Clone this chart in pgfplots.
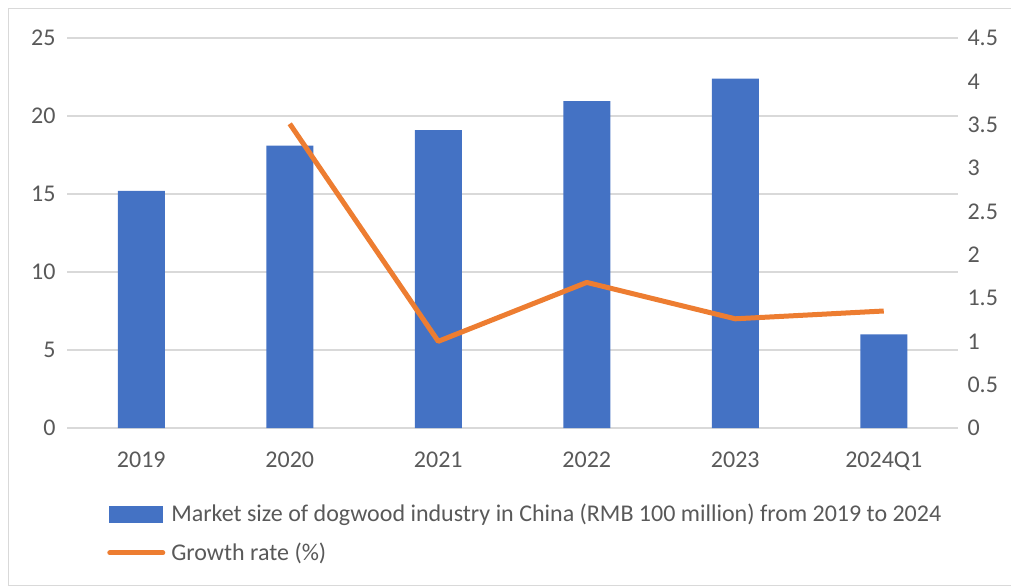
\documentclass[border=0pt]{standalone}
\usepackage{pgfplots}
\pgfplotsset{compat=1.18}
\usepackage{fontspec}
\setmainfont{Carlito}
\definecolor{barblue}{HTML}{4472C4}
\definecolor{lineorange}{HTML}{ED7D31}
\definecolor{gridgray}{HTML}{D9D9D9}
\definecolor{textgray}{HTML}{595959}
\begin{document}
\begin{tikzpicture}[x=1pt,y=1pt]
\useasboundingbox (0,0) rectangle (1011,587);
\draw[gridgray, line width=1pt] (8.5,2) rectangle (1012,578.5);
\pgfplotsset{
  common/.style={
    at={(67pt,159pt)}, anchor=south west, scale only axis,
    width=891pt, height=390pt,
    xmin=-0.5, xmax=5.5,
    axis line style={draw=none},
    tick style={draw=none},
    major tick length=0pt,
    ticklabel style={font=\fontsize{24}{27}\selectfont, text=textgray},
    /pgf/number format/assume math mode=true,
  }
}
\begin{axis}[common,
  axis x line*=bottom, axis y line*=left,
  ymin=0, ymax=25, ytick={0,5,10,15,20,25},
  ymajorgrids, grid style={gridgray, line width=1.5pt},
  xtick={0,1,2,3,4,5},
  xticklabels={2019,2020,2021,2022,2023,2024Q1},
  xticklabel style={yshift=-20pt},
  yticklabel style={xshift=-8pt},
  ybar, bar width=47pt,
]
\addplot[fill=barblue, draw=none] coordinates {
  (0,15.2) (1,18.1) (2,19.1) (3,20.95) (4,22.4) (5,6.0)
};
\end{axis}
\begin{axis}[common,
  axis y line*=right, axis x line=none,
  ymin=0, ymax=4.5, ytick={0,0.5,1,1.5,2,2.5,3,3.5,4,4.5},
  yticklabel style={xshift=6pt},
  legend style={at={(0.045,-0.19)}, anchor=north west, draw=none, fill=none,
    font=\fontsize{24}{27}\selectfont, text=textgray,
    row sep=16pt, inner sep=0pt},
  legend cell align=left,
]
\addlegendimage{legend image code/.code={\fill[barblue] (0,-8pt) rectangle (53pt,8pt); \path (58pt,0);}}
\addlegendentry{Market size of dogwood industry in China (RMB 100 million) from 2019 to 2024}
\addplot[lineorange, line width=5pt, line join=round, mark=none,
  legend image code/.code={\draw[lineorange, line width=5pt, line cap=round] (1pt,0) -- (54pt,0); \path (58pt,0);}]
  coordinates {(1,3.51) (2,1.0) (3,1.68) (4,1.26) (5,1.35)};
\addlegendentry{Growth rate (\%)}
\end{axis}
\end{tikzpicture}
\end{document}
